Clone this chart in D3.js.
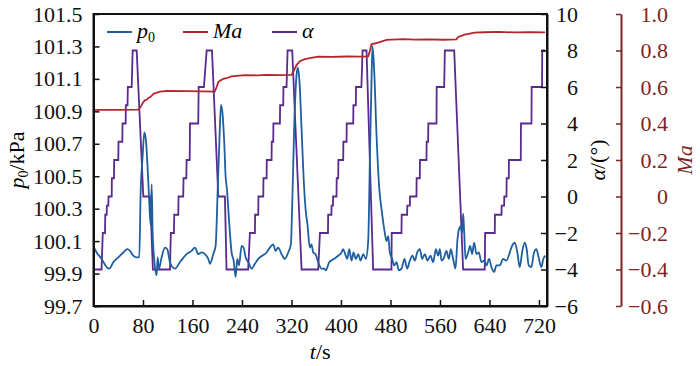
<!DOCTYPE html>
<html>
<head>
<meta charset="utf-8">
<script src="https://cdn.jsdelivr.net/npm/d3@7"></script>
</head>
<body style="margin:0">
<svg id="chart" width="700" height="366" font-family="serif" style="font-family: serif"></svg>
<script>
// x ticks (t, s)
const tTicks = [0, 80, 160, 240, 320, 400, 480, 560, 640, 720];
const p0Ticks = [99.7, 99.9, 100.1, 100.3, 100.5, 100.7, 100.9, 101.1, 101.3, 101.5];
const alphaTicks = [-6, -4, -2, 0, 2, 4, 6, 8, 10];
const maTicks = [-0.6, -0.4, -0.2, 0, 0.2, 0.4, 0.6, 0.8, 1.0];

// p0 (kPa), [t, value]
const p0Data = [
  [0.8,100.06],[5.1,100.03],[13.2,99.99],[21.3,99.94],[25.6,99.93],[32,99.97],[40.1,100.0],[48,100.03],
  [54.7,100.05],[59,100.04],[64.3,100.01],[69.7,100.0],[74,100.0],[76.2,100.4],[79.4,100.62],[82.1,100.77],
  [84.8,100.72],[87.5,100.55],[90.2,100.33],[92.3,100.2],[94,100.45],[95.6,100.15],[98.3,99.98],[102,99.89],
  [103.7,100.0],[105.8,99.93],[110.1,100.0],[115.5,100.06],[119.3,100.05],[123.6,99.97],[131.7,99.93],
  [139.7,99.97],[150.5,100.02],[158.6,100.04],[164,100.06],[169.4,100.02],[174.8,100.03],[180.2,100.02],
  [185.5,99.99],[188.2,99.96],[193.6,100.02],[197.4,100.07],[200.6,100.4],[203.8,100.75],[206,100.94],
  [208.7,100.88],[211.4,100.7],[213.5,100.5],[215.7,100.42],[217.8,100.3],[220.5,100.15],[223.2,100.03],
  [226.5,99.98],[229.7,99.88],[232.4,99.99],[235.1,99.95],[239.4,100.07],[242.6,100.06],[245.9,100.0],
  [250.2,99.97],[255.5,99.93],[260.9,99.96],[266.3,99.99],[272.7,100.01],[279.7,100.03],[285.1,100.06],
  [290.5,100.08],[294.2,100.04],[298.5,100.06],[303.9,100.02],[309.3,99.99],[314.7,100.03],[319,100.08],
  [321.7,100.4],[324.4,100.8],[328.1,101.12],[330.3,101.17],[333,101.08],[336.2,100.8],[339.5,100.5],
  [342.7,100.3],[345.9,100.2],[349.7,100.06],[352.4,100.08],[355.1,100.03],[358.8,100.02],[363.2,99.97],
  [368.5,99.93],[372.8,99.93],[375.6,99.92],[381,99.97],[388.5,99.99],[395.5,100.01],[400.9,100.03],
  [403.6,100.05],[406.8,100.02],[410.1,99.99],[413.3,100.05],[417.1,99.98],[420.3,100.03],[424.1,99.99],
  [427.9,100.02],[431.6,99.98],[436,100.02],[440.2,99.99],[444,100.1],[446.7,100.6],[449.4,101.1],
  [451,101.3],[453.7,101.15],[457.5,100.75],[461.8,100.43],[466.1,100.28],[470.9,100.15],[473.6,100.1],
  [476.3,100.13],[479,100.03],[482.8,99.99],[486,99.95],[489.8,99.97],[493.5,99.92],[497.8,99.93],
  [502.7,99.99],[507,99.93],[511.3,99.98],[515.6,100.01],[519.4,99.98],[523.2,100.03],[527.5,100.05],
  [531.2,99.99],[535.5,100.02],[539.8,99.98],[544.7,100.01],[549,99.97],[553.3,100.05],[557.1,100.01],
  [559.8,100.05],[562.5,99.98],[566.8,100.0],[570.5,100.04],[574.3,99.99],[577.5,100.05],[581.3,99.99],
  [585,99.93],[588.3,100.11],[590.4,100.17],[593.7,100.19],[595.8,100.15],[597.5,100.27],[599.1,100.16],
  [601.3,99.99],[605.6,100.03],[608.8,100.07],[612,100.02],[615.2,100.09],[619,100.02],[622.8,100.03],
  [627.1,99.97],[631.4,99.98],[635.1,99.95],[639.4,99.99],[643.2,99.94],[647.5,99.91],[651.2,99.95],
  [656.6,99.95],[662,99.99],[667.4,99.98],[672.8,100.03],[676.5,100.07],[680.8,100.09],[685.1,100.03],
  [688.9,99.94],[692.7,100.03],[697,100.09],[700.2,100.05],[703.4,99.95],[707.7,99.94],[712,100.03],
  [715.8,100.05],[719.5,100.0],[723.8,99.94],[727.1,99.99],[730.3,100.01]
];

// Ma
const maData = [
  [0,0.475],[40,0.475],[72,0.476],[76,0.49],[80,0.515],[83,0.527],[86,0.53],[88.6,0.54],[92,0.545],
  [96.7,0.562],[100,0.566],[107.4,0.575],[118,0.578],[150,0.577],[175,0.576],[196,0.575],[199,0.6],
  [201.7,0.627],[205,0.635],[209.8,0.645],[215,0.648],[223,0.658],[235,0.662],[245,0.665],[265,0.664],
  [280,0.666],[300,0.665],[320,0.666],[324,0.69],[328,0.72],[333.6,0.741],[341.7,0.753],[352,0.76],
  [363,0.766],[385,0.765],[410,0.767],[430,0.766],[444,0.768],[447,0.8],[449.4,0.834],[460,0.843],
  [473.6,0.858],[500,0.862],[520,0.86],[540,0.861],[565,0.859],[586.6,0.861],[589.4,0.874],[600,0.887],
  [616,0.898],[632,0.9],[655,0.902],[680,0.899],[705,0.901],[730,0.899]
];

// angle of attack (deg)
const alphaData = [
  [0,-4],[13,-4],[15,-2],[18.6,-2],[19,-1],[21.3,-1],[21.6,-0.5],[24,-0.5],[24.3,0],[29.4,0],[29.7,1],
  [33.1,1],[33.4,2],[40.1,2],[40.4,3],[46.6,3],[46.9,4],[52,4],[52.3,5],[55,5],[55.5,6],[61.7,6],
  [63.3,8],[69.8,8],[80.5,0],[91.5,0],[96,-4],
  [123.6,-4],[125,-2],[130,-2],[130.5,-1],[137,-1],[137.5,0],[145,0],[145.5,1],[150,1],[150.5,2],
  [155.5,2],[156,4],[169.3,4],[170,6],[178.5,6],[182.9,8],[191.5,8],[201.7,0],[212.4,0],[215,-4],
  [250,-4],[252.8,-2],[260.9,-2],[261.2,-1],[266.3,-1],[266.6,0],[274.4,0],[274.7,1],[279.8,1],
  [280.1,2],[287.8,2],[288.1,3],[290.5,3],[290.8,4],[301.3,4],[301.6,5],[306.7,5],[307,6],[312,6],
  [313.7,8],[321.2,8],[336.3,-4],
  [363.2,-4],[366,-2],[379,-2],[379.3,-1],[384.5,-1],[384.8,-0.5],[387,-0.5],[387.3,0],[392.8,0],
  [393.1,1],[395.5,1],[395.8,2],[403.6,2],[403.9,3],[409,3],[409.3,4],[419.8,4],[420.1,5],[424,5],
  [424.3,6],[433,6],[434.9,8],[441.3,8],[452,-4],
  [481.6,-4],[482,-2],[497.8,-2],[498.1,-1],[506.9,-1],[507.2,-0.5],[511.3,-0.5],[511.6,0],[522,0],
  [522.3,1],[527.4,1],[527.7,2],[538.2,2],[538.5,3],[540.9,3],[541.2,4],[554.4,4],[554.7,6],[566.8,6],
  [567.9,8],[583,8],[597.4,-4],
  [632.4,-4],[633,-2],[648.6,-2],[648.9,-1],[659.4,-1],[659.7,-0.5],[663.7,-0.5],[664,0],[667.5,0],
  [667.8,1],[671.2,1],[671.5,2],[690.6,2],[690.9,4],[707.9,4],[708.2,6],[725,6],[725.3,8],[730,8]
];

const svg = d3.select('#chart');
const margin = {top: 14, right: 153, bottom: 60, left: 93.5};
const W = 700, H = 366;
const x0 = margin.left, x1 = W - margin.right, y0 = margin.top, y1 = H - margin.bottom;

const blue = '#1f5f9f', red = '#b3262b', purple = '#5a2a8e', maColor = '#7d2424';
const fontSize = 22;

const x = d3.scaleLinear().domain([0, 733]).range([x0, x1]);
const yP = d3.scaleLinear().domain([99.7, 101.5]).range([y1, y0]);
const yA = d3.scaleLinear().domain([-6, 10]).range([y1, y0]);
const yM = d3.scaleLinear().domain([-0.6, 1.0]).range([y1, y0]);

// frame
svg.append('rect')
    .attr('x', x0).attr('y', y0)
    .attr('width', x1 - x0).attr('height', y1 - y0)
    .attr('fill', 'none').attr('stroke', '#111').attr('stroke-width', 2);

// lines
const lineA = d3.line().x(d => x(d[0])).y(d => yA(d[1]));
const lineM = d3.line().x(d => x(d[0])).y(d => yM(d[1]));
const lineP = d3.line().x(d => x(d[0])).y(d => yP(d[1])).curve(d3.curveMonotoneX);

svg.append('path').datum(alphaData)
    .attr('fill', 'none').attr('stroke', purple).attr('stroke-width', 1.8).attr('d', lineA);
svg.append('path').datum(maData)
    .attr('fill', 'none').attr('stroke', red).attr('stroke-width', 1.8).attr('d', lineM);
svg.append('path').datum(p0Data)
    .attr('fill', 'none').attr('stroke', blue).attr('stroke-width', 1.8).attr('d', lineP);

function styleAxis(g, color) {
    g.attr('font-family', 'serif').attr('font-size', fontSize);
    g.select('.domain').attr('stroke', color).attr('stroke-width', 2);
    g.selectAll('.tick line').attr('stroke', color).attr('stroke-width', 1.5);
    g.selectAll('.tick text').attr('fill', color).attr('font-family', 'serif');
}

// bottom axis
const gx = svg.append('g')
    .attr('transform', `translate(0,${y1})`)
    .call(d3.axisBottom(x).tickValues(tTicks).tickSize(-6).tickSizeOuter(0).tickPadding(11));
styleAxis(gx, '#111');

// left axis
const gl = svg.append('g')
    .attr('transform', `translate(${x0},0)`)
    .call(d3.axisLeft(yP).tickValues(p0Ticks).tickFormat(d3.format('.1f')).tickSize(-6).tickSizeOuter(0).tickPadding(11));
styleAxis(gl, '#111');

// alpha axis (right side of the frame)
const gr = svg.append('g')
    .attr('transform', `translate(${x1},0)`)
    .call(d3.axisRight(yA).tickValues(alphaTicks).tickSize(-6).tickSizeOuter(0));
styleAxis(gr, '#111');
gr.selectAll('.tick text').attr('text-anchor', 'end').attr('x', 31);

// Ma axis
const maX = 621;
const gm = svg.append('g')
    .attr('transform', `translate(${maX},0)`)
    .call(d3.axisRight(yM).tickValues(maTicks)
        .tickFormat(d => d === 0 ? '0' : d3.format('.1f')(d))
        .tickSize(-5).tickSizeOuter(0));
styleAxis(gm, maColor);
gm.selectAll('.tick text').attr('text-anchor', 'end').attr('x', 47);

function addText(sel) {
    return sel.append('text')
        .attr('font-family', 'serif')
        .attr('font-size', fontSize);
}

// axis titles
const midY = (y0 + y1) / 2;
const tl = addText(svg)
    .attr('transform', `translate(24,${midY}) rotate(-90)`)
    .attr('text-anchor', 'middle');
tl.append('tspan').attr('font-style', 'italic').text('p');
tl.append('tspan').attr('font-size', 14).attr('dy', 4).text('0');
tl.append('tspan').attr('dy', -4).text('/kPa');

const ta = addText(svg)
    .attr('transform', `translate(605,${midY}) rotate(-90)`)
    .attr('text-anchor', 'middle');
ta.append('tspan').attr('font-style', 'italic').text('α');
ta.append('tspan').text('/(°)');

addText(svg)
    .attr('transform', `translate(692,${midY}) rotate(-90)`)
    .attr('text-anchor', 'middle')
    .attr('font-style', 'italic')
    .attr('fill', maColor)
    .text('Ma');

const tx = addText(svg)
    .attr('x', (x0 + x1) / 2).attr('y', 359)
    .attr('text-anchor', 'middle');
tx.append('tspan').attr('font-style', 'italic').text('t');
tx.append('tspan').text('/s');

// legend
const legend = [
    {label: 'p', sub: '0', color: blue, x: 107},
    {label: 'Ma', color: red, x: 183},
    {label: 'α', color: purple, x: 272}
];
const ly = 32;
legend.forEach(d => {
    svg.append('line')
        .attr('x1', d.x).attr('x2', d.x + 25)
        .attr('y1', ly).attr('y2', ly)
        .attr('stroke', d.color).attr('stroke-width', 2);
    const t = addText(svg)
        .attr('x', d.x + 30).attr('y', ly + 6);
    t.append('tspan').attr('font-style', 'italic').text(d.label);
    if (d.sub) t.append('tspan').attr('font-size', 14).attr('dy', 4).text(d.sub);
});
</script>
</body>
</html>
